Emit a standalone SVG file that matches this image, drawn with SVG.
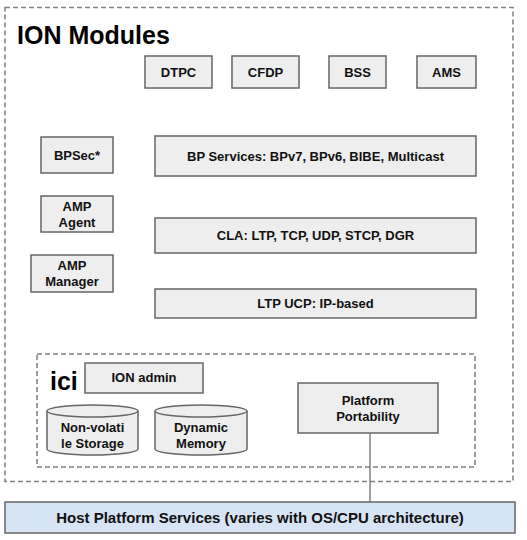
<svg xmlns="http://www.w3.org/2000/svg" width="527" height="540" viewBox="0 0 527 540">
<style>
.box{fill:#eeeeee;stroke:#666666;stroke-width:1.5}
.dash{fill:none;stroke:#808080;stroke-width:1.5;stroke-dasharray:5,3}
.t{font-family:"Liberation Sans",Arial,sans-serif;font-size:13px;font-weight:bold;fill:#111111;text-anchor:middle}
.big{font-family:"Liberation Sans",Arial,sans-serif;font-size:25px;font-weight:bold;fill:#000000}
.conn{stroke:#808080;stroke-width:1.5;fill:none}
</style>
<rect width="527" height="540" fill="#ffffff"/>
<g id="ion-modules">
<rect class="dash" x="5" y="7.5" width="508" height="474"/>
<text class="big" x="17" y="44">ION Modules</text>
</g>
<g id="dtpc"><rect class="box" x="145" y="56" width="67" height="32"/><text class="t" x="178.5" y="77">DTPC</text></g>
<g id="cfdp"><rect class="box" x="232" y="56" width="67" height="32"/><text class="t" x="265.5" y="77">CFDP</text></g>
<g id="bss"><rect class="box" x="329" y="56" width="57" height="32"/><text class="t" x="357.5" y="77">BSS</text></g>
<g id="ams"><rect class="box" x="417" y="56" width="59" height="32"/><text class="t" x="446.5" y="77">AMS</text></g>
<g id="bpsec"><rect class="box" x="41" y="137" width="72" height="36"/><text class="t" x="77" y="160">BPSec*</text></g>
<g id="bp-services"><rect class="box" x="155" y="136" width="321" height="40"/><text class="t" x="315.5" y="161">BP Services: BPv7, BPv6, BIBE, Multicast</text></g>
<g id="amp-agent"><rect class="box" x="41" y="196" width="72" height="36"/><text class="t" x="77" y="211">AMP</text><text class="t" x="77" y="227">Agent</text></g>
<g id="amp-manager"><rect class="box" x="31" y="255" width="82" height="37"/><text class="t" x="72" y="270">AMP</text><text class="t" x="72" y="286">Manager</text></g>
<g id="cla"><rect class="box" x="155" y="218" width="321" height="35"/><text class="t" x="315.5" y="240">CLA: LTP, TCP, UDP, STCP, DGR</text></g>
<g id="ltp-ucp"><rect class="box" x="155" y="289" width="321" height="29"/><text class="t" x="315.5" y="308">LTP UCP: IP-based</text></g>
<g id="ici">
<rect class="dash" x="37" y="354" width="438" height="113"/>
<text class="big" x="50" y="390">ici</text>
</g>
<g id="ion-admin"><rect class="box" x="85" y="363" width="118" height="30"/><text class="t" x="144" y="382">ION admin</text></g>
<g id="non-volatile-storage">
<path class="box" d="M47,411 A45.5,6 0 0 1 138,411 L138,449 A45.5,6 0 0 1 47,449 Z"/>
<path class="box" style="fill:none" d="M47,411 A45.5,6 0 0 0 138,411"/>
<text class="t" x="92.5" y="432">Non-volati</text><text class="t" x="92.5" y="448">le Storage</text>
</g>
<g id="dynamic-memory">
<path class="box" d="M155,411 A46,6 0 0 1 247,411 L247,449 A46,6 0 0 1 155,449 Z"/>
<path class="box" style="fill:none" d="M155,411 A46,6 0 0 0 247,411"/>
<text class="t" x="201" y="432">Dynamic</text><text class="t" x="201" y="448">Memory</text>
</g>
<g id="platform-portability"><rect class="box" x="298" y="383" width="140" height="50"/><text class="t" x="368" y="405">Platform</text><text class="t" x="368" y="421">Portability</text></g>
<g id="connectors"><line class="conn" x1="370" y1="433" x2="370" y2="502"/></g>
<g id="host-platform"><rect class="box" style="fill:#d6e4f5" x="5" y="502" width="510" height="31"/><text class="t" style="font-size:15px" x="260" y="523">Host Platform Services (varies with OS/CPU architecture)</text></g>
</svg>
